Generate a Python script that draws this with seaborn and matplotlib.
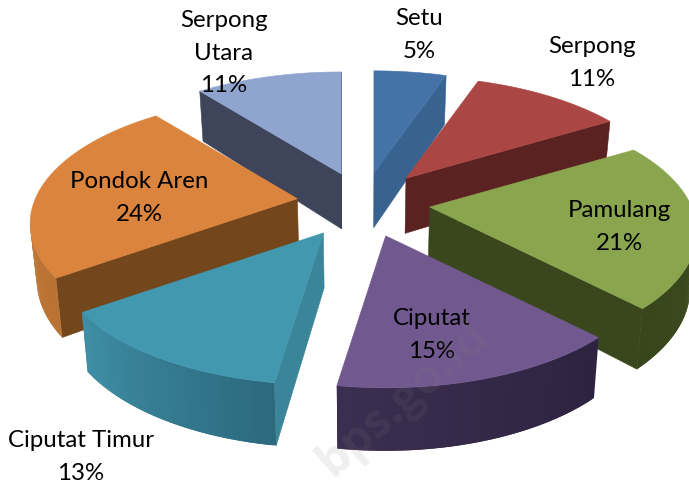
import numpy as np
import seaborn as sns
import matplotlib.pyplot as plt
from matplotlib.colors import to_rgb

# Data, clockwise from 12 o'clock (label dibulatkan)
kecamatan = ['Setu', 'Serpong', 'Pamulang', 'Ciputat', 'Ciputat Timur', 'Pondok Aren', 'Serpong Utara']
persen = [5.3, 11.1, 21.3, 14.7, 12.8, 24.1, 10.7]
label_teks = ['Setu\n5%', 'Serpong\n11%', 'Pamulang\n21%', 'Ciputat\n15%',
              'Ciputat Timur\n13%', 'Pondok Aren\n24%', 'Serpong\nUtara\n11%']

warna_atas = ['#4573A7', '#AA4644', '#89A54E', '#71588F', '#4198AF', '#DB843D', '#8FA4CF']
warna_sisi = ['#38628F', '#5A2220', '#3A471C', '#35294A', '#3A8599', '#73461C', '#3E4459']
warna_busur_awal = ['#38628F', '#5A2220', '#3F5020', '#2D2340', '#2C697E', '#B87334', '#3E4459']
warna_busur_akhir = ['#38628F', '#5A2220', '#39461C', '#3C2E50', '#3F8FA6', '#D07F3A', '#3E4459']

# Tata letak (piksel gambar)
explode = [0.30, 0.30, 0.25, 0.23, 0.24, 0.26, 0.30]
urutan_gambar = [0, 6, 1, 5, 2, 4, 3]
label_pos = [(419, 35), (592, 63), (619, 227), (432, 335), (81, 457), (139, 198), (224, 53)]
cx, cy = 363, 203
rx, ry = 262, 122
persp = 0.197
tebal = 55
persp_tebal = 0.127
susut_bawah = 0.98


def proyeksi(sudut):
    # sudut searah jarum jam dari atas, hasil berupa offset dari titik pusat
    X, Y = np.sin(sudut), np.cos(sudut)
    w = 1 + persp * Y
    return rx * X / w, -ry * Y / w, Y


def bawah(x, y, Y):
    return cx + (x - cx) * susut_bawah, y + tebal / (1 + persp_tebal * Y)


def campur(c1, c2, t):
    a, b = np.array(to_rgb(c1)), np.array(to_rgb(c2))
    return tuple(a + (b - a) * t)


def gambar_dinding(ax, p, q, warna, z, lw=0.4):
    xb1, yb1 = bawah(p[0], p[1], p[2])
    xb2, yb2 = bawah(q[0], q[1], q[2])
    ax.fill([p[0], q[0], xb2, xb1], [p[1], q[1], yb2, yb1], color=warna, lw=lw, zorder=z)


sns.set_theme(style='white')
plt.rcParams['font.family'] = ['Lato', 'DejaVu Sans']
fig = plt.figure(figsize=(6.89, 4.88), dpi=100)
ax = fig.add_axes([0, 0, 1, 1])
ax.set_xlim(0, 689)
ax.set_ylim(488, 0)
ax.axis('off')

batas = np.radians(np.concatenate([[0], np.cumsum(persen)]) * 3.6)
z = 1
for i in urutan_gambar:
    a0, a1 = batas[i], batas[i + 1]
    tengah = (a0 + a1) / 2
    ox, oy, oY = proyeksi(tengah)
    ax0 = cx + explode[i] * ox
    ay0 = cy + explode[i] * oy
    sudut = np.linspace(a0, a1, max(int(persen[i] * 5), 12))
    dx, dy, Y = proyeksi(sudut)
    xs = ax0 + dx
    ys = ay0 + dy

    # dinding radial, hanya yang menghadap ke depan
    pusat = (ax0, ay0, 0.0)
    if xs[0] < ax0:
        gambar_dinding(ax, pusat, (xs[0], ys[0], Y[0]), warna_sisi[i], z)
    if xs[-1] > ax0:
        gambar_dinding(ax, (xs[-1], ys[-1], Y[-1]), pusat, warna_sisi[i], z)
    z += 1

    # dinding busur dengan gradasi, tiap potongan menimpa potongan berikutnya supaya tidak ada garis
    n = len(sudut)
    for k in range(n - 1):
        if xs[k + 1] < xs[k]:
            warna = campur(warna_busur_awal[i], warna_busur_akhir[i], k / (n - 2))
            j = min(k + 2, n - 1)
            if xs[j] >= xs[k + 1]:
                j = k + 1
            gambar_dinding(ax, (xs[k], ys[k], Y[k]), (xs[j], ys[j], Y[j]), warna, z, lw=0)
            z += 0.01
    z += 1

    ax.fill(np.r_[ax0, xs], np.r_[ay0, ys], color=warna_atas[i], lw=0.4, zorder=z)
    z += 1

for teks, (lx, ly) in zip(label_teks, label_pos):
    ax.text(lx, ly, teks, ha='center', va='center', fontsize=17.3, color='black',
            linespacing=1.68, zorder=z)

# watermark samar
ax.text(403, 399, 'bps.go.id', rotation=41, rotation_mode='anchor', ha='center', va='center',
        fontsize=34, fontweight='bold', color='#808080', alpha=0.13, family=['Open Sans', 'DejaVu Sans'],
        zorder=z + 1)

fig.savefig('out.png', dpi=100)
